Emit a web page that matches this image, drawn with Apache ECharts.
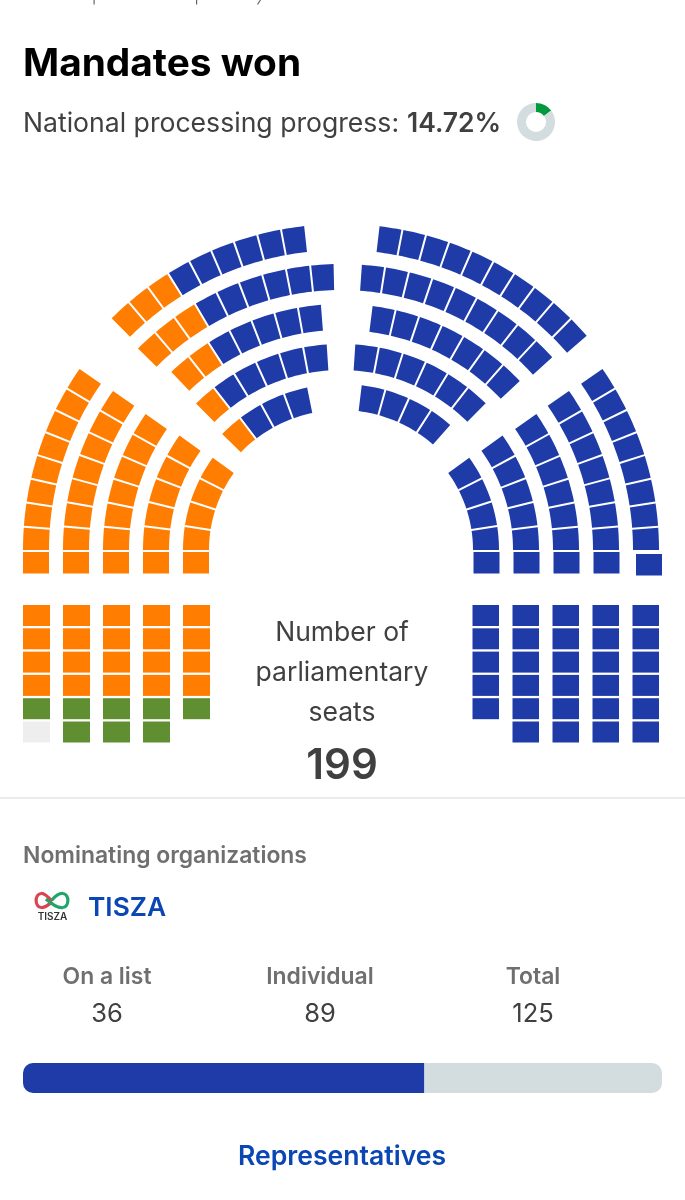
<!DOCTYPE html>
<html>
<head>
<meta charset="utf-8">
<title>Mandates won</title>
<style>html,body{margin:0;padding:0;background:#fff}#c{width:685px;height:1200px}</style>
<script src="https://cdn.jsdelivr.net/npm/echarts@6/dist/echarts.min.js"></script>
</head>
<body>
<div id="c"></div>
<script>
// ---- values ----
const titleText = 'Mandates won';
const progressLabel = 'National processing progress: ';
const progressPercent = 14.72;
const centerLines = ['Number of', 'parliamentary', 'seats'];
const totalSeats = 199;
const orgHeading = 'Nominating organizations';
const orgName = 'TISZA';
const statLabels = ['On a list', 'Individual', 'Total'];
const statValues = [36, 89, 125];
const linkText = 'Representatives';

// seats per ring, outermost ring first
const upperLeftOrange = [3, 3, 2, 1, 1];
const upperLeftBlue = [6, 6, 5, 5, 3];
const upperRightBlue = [10, 9, 7, 6, 4];
const lowerLeftOrange = [8, 7, 6, 5, 4];
const lowerRightBlue = [8, 7, 6, 5, 4];
// bottom blocks, per column, left to right
const flatRowLeft = ['orange', 'orange', 'orange', 'orange', 'orange'];
const flatRowRight = ['blue', 'blue', 'blue', 'blue', 'blue'];
const columnOrange = [4, 4, 4, 4, 4];
const columnGreen = [1, 2, 2, 2, 1];
const columnEmpty = [1, 0, 0, 0, 0];
const columnBlue = [5, 6, 6, 6, 6];

// ---- layout and style (not data) ----
const COLORS = { orange: '#ff7d00', blue: '#1f3ba8', green: '#5f8f31', empty: '#eeeeee' };
const TEXT = '#404040', LINK = '#0a46b4', MUTED = '#6f6f6f';
const FONT = 'Inter, "Noto Sans", sans-serif';
const CX = 341, CY = 550;
const SEAT_DEPTH_LOW = 26, SEAT_DEPTH_HIGH = 26, GAP = 2;
const lowRadii = [318, 278, 238, 198, 158];
const highRadii = [326, 286, 246, 206, 166];
const lowEnds = [34.7, 34.9, 34.8, 35.3, 35.7];
const upperLeftSpan = [[45.3, 83.5], [44.8, 88.5], [46.4, 85.3], [45.3, 86.0], [44.3, 78.2]];
const upperRightSpan = [[41.1, 83.2], [42.4, 85.8], [43.4, 82.6], [45.4, 86.0], [48.9, 82.8]];
const leftColumnsX = [23, 63, 103, 143, 183];
const rightColumnsX = [472.5, 512.5, 552.5, 592.5, 632.5];

// ---- build seats in polar terms: [outer radius, start angle, end angle, depth, colour key] ----
const arcSeats = [];
function addRing(outer, depth, a0, a1, groups, mirror) {
  const total = groups.reduce((s, g) => s + g[1], 0);
  const mid = outer - depth / 2;
  const halfGapDeg = (GAP / 2 / mid) * 180 / Math.PI;
  const pitch = (a1 - a0 + 2 * halfGapDeg) / total;
  let i = 0;
  groups.forEach(g => {
    for (let k = 0; k < g[1]; k++, i++) {
      const s = a0 - halfGapDeg + i * pitch, e = s + pitch;
      arcSeats.push(mirror ? [outer, 180 - e, 180 - s, depth, g[0]] : [outer, s, e, depth, g[0]]);
    }
  });
}
lowRadii.forEach((r, i) => {
  addRing(r, SEAT_DEPTH_LOW, 0, lowEnds[i], [['orange', lowerLeftOrange[i]]], true);
  addRing(r, SEAT_DEPTH_LOW, 0, lowEnds[i], [['blue', lowerRightBlue[i]]], false);
});
highRadii.forEach((r, i) => {
  addRing(r, SEAT_DEPTH_HIGH, upperLeftSpan[i][0], upperLeftSpan[i][1],
    [['orange', upperLeftOrange[i]], ['blue', upperLeftBlue[i]]], true);
  addRing(r, SEAT_DEPTH_HIGH, upperRightSpan[i][0], upperRightSpan[i][1],
    [['blue', upperRightBlue[i]]], false);
});

function renderArcSeat(params, api) {
  const outer = api.value(0), a0 = api.value(1), a1 = api.value(2), depth = api.value(3);
  const key = arcSeats[params.dataIndex][4];
  const inner = outer - depth;
  const dOuter = (GAP / 2 / outer) * 180 / Math.PI;
  const dInner = (GAP / 2 / inner) * 180 / Math.PI;
  const pts = [];
  const STEPS = 5;
  for (let i = 0; i <= STEPS; i++) {
    pts.push(api.coord([outer, a0 + dOuter + (a1 - a0 - 2 * dOuter) * i / STEPS]));
  }
  for (let i = STEPS; i >= 0; i--) {
    pts.push(api.coord([inner, a0 + dInner + (a1 - a0 - 2 * dInner) * i / STEPS]));
  }
  return { type: 'polygon', shape: { points: pts }, style: { fill: COLORS[key] } };
}

// ---- build rectangular seats: [left x, top y, width, height, colour key] ----
const rectSeats = [];
const ROW_TOP = 605, ROW_PITCH = 23.3, ROW_H = 21, COL_W = 27;
leftColumnsX.forEach((x, c) => {
  let row = 0;
  [['orange', columnOrange[c]], ['green', columnGreen[c]], ['empty', columnEmpty[c]]].forEach(g => {
    for (let k = 0; k < g[1]; k++, row++) {
      rectSeats.push([x, ROW_TOP + row * ROW_PITCH, COL_W, ROW_H, g[0]]);
    }
  });
  rectSeats.push([x, 552, 26, 21.5, flatRowLeft[c]]);
});
rightColumnsX.forEach((x, c) => {
  for (let row = 0; row < columnBlue[c]; row++) {
    rectSeats.push([x, ROW_TOP + row * ROW_PITCH, COL_W - 0.5, ROW_H, 'blue']);
  }
  const nudge = c === 4 ? 2.5 : 0; // the last seat of this row sits slightly out of line
  rectSeats.push([x + 1 + nudge, 552 + nudge * 0.8, 26, 21.5, flatRowRight[c]]);
});

function renderRectSeat(params, api) {
  const s = rectSeats[params.dataIndex];
  const a = api.coord([api.value(0), api.value(1)]);
  const b = api.coord([api.value(0) + api.value(2), api.value(1) + api.value(3)]);
  return {
    type: 'rect',
    shape: { x: a[0], y: a[1], width: b[0] - a[0], height: b[1] - a[1] },
    style: { fill: COLORS[s[4]] }
  };
}

const txt = (x, y, text, font, fill, align) => ({
  type: 'text', x, y, silent: true,
  style: { text, font: font + ' ' + FONT, fill, textAlign: align || 'left', textVerticalAlign: 'middle' }
});
const curve = (p, color) => ({
  type: 'bezierCurve', silent: true,
  shape: { x1: p[0], y1: p[1], cpx1: p[2], cpy1: p[3], cpx2: p[4], cpy2: p[5], x2: p[6], y2: p[7] },
  style: { fill: 'none', stroke: color, lineWidth: 3.2 }
});

const graphics = [
  txt(23, 64, titleText, '700 38.8px', '#000000'),
  txt(23, 124, progressLabel, '400 26.6px', TEXT),
  txt(407, 124, progressPercent.toFixed(2) + '%', '600 26.5px', TEXT),
  txt(342, 633, centerLines[0], '400 26.5px', TEXT, 'center'),
  txt(342, 673, centerLines[1], '400 26.5px', TEXT, 'center'),
  txt(342, 713, centerLines[2], '400 26.5px', TEXT, 'center'),
  txt(342, 766, String(totalSeats), '600 42px', TEXT, 'center'),
  { type: 'rect', silent: true, shape: { x: 0, y: 797, width: 685, height: 2 }, style: { fill: '#e9ebef' } },
  txt(23, 856, orgHeading, '600 22.9px', MUTED),
  txt(88, 908, orgName, '600 26.3px', LINK),
  // logo knot
  curve([52, 901.5, 47, 895.5, 44, 893, 41, 893.5], '#d94450'),
  curve([41, 893.5, 34.5, 894.5, 34.5, 906.5, 41, 907.5], '#d94450'),
  curve([41, 907.5, 45, 908, 49, 904.5, 52, 901.5], '#d94450'),
  curve([46, 899, 51, 903.5, 58, 908.5, 63, 907.5], '#1fa56a'),
  curve([63, 907.5, 69.5, 906.5, 69.5, 894.5, 63, 893.5], '#1fa56a'),
  curve([63, 893.5, 59, 893, 55, 896.5, 52, 900], '#1fa56a'),
  txt(52.5, 917, 'TISZA', '600 10px', '#333333', 'center'),
  // clipped descenders of the line above the crop
  { type: 'rect', silent: true, shape: { x: 93.5, y: 0, width: 1.2, height: 4.5 }, style: { fill: '#666' } },
  { type: 'rect', silent: true, shape: { x: 196, y: 0, width: 1.2, height: 4.5 }, style: { fill: '#666' } },
  { type: 'line', silent: true, shape: { x1: 260.5, y1: 0, x2: 257.5, y2: 4.5 }, style: { stroke: '#666', lineWidth: 1.2 } }
];
[107, 320, 533].forEach((x, i) => {
  graphics.push(txt(x, 977, statLabels[i], '600 22.9px', MUTED, 'center'));
  graphics.push(txt(x, 1014, String(statValues[i]), '400 25.5px', TEXT, 'center'));
});
graphics.push(txt(342, 1157, linkText, '600 26.6px', LINK, 'center'));

const chart = echarts.init(document.getElementById('c'), null, { renderer: 'canvas', width: 685, height: 1200 });
const won = statValues[2];
chart.setOption({
  animation: false,
  backgroundColor: '#ffffff',
  polar: { center: [CX, CY], radius: 400 },
  radiusAxis: { min: 0, max: 400, show: false },
  angleAxis: { min: 0, max: 360, startAngle: 0, clockwise: false, show: false },
  grid: [
    { left: 0, top: 0, width: 685, height: 1200, show: false },
    { left: 23, top: 1063, width: 639, height: 30, show: false }
  ],
  xAxis: [
    { gridIndex: 0, type: 'value', min: 0, max: 685, show: false },
    { gridIndex: 1, type: 'value', min: 0, max: totalSeats, show: false }
  ],
  yAxis: [
    { gridIndex: 0, type: 'value', min: 0, max: 1200, inverse: true, show: false },
    { gridIndex: 1, type: 'category', data: ['seats'], show: false }
  ],
  graphic: graphics,
  series: [
    {
      type: 'custom', coordinateSystem: 'polar', silent: true,
      renderItem: renderArcSeat,
      encode: { radius: 0, angle: 1 },
      data: arcSeats.map(s => s.slice(0, 4))
    },
    {
      type: 'custom', coordinateSystem: 'cartesian2d', xAxisIndex: 0, yAxisIndex: 0, silent: true,
      renderItem: renderRectSeat,
      encode: { x: 0, y: 1 },
      data: rectSeats.map(s => s.slice(0, 4))
    },
    {
      type: 'bar', xAxisIndex: 1, yAxisIndex: 1, stack: 'seats', barWidth: 30, silent: true,
      data: [won],
      itemStyle: { color: COLORS.blue, borderRadius: [10, 0, 0, 10] }
    },
    {
      type: 'bar', xAxisIndex: 1, yAxisIndex: 1, stack: 'seats', barWidth: 30, silent: true,
      data: [totalSeats - won],
      itemStyle: { color: '#d3dcdf', borderRadius: [0, 10, 10, 0] }
    },
    {
      type: 'pie', center: [536, 122], radius: [10, 19], startAngle: 90, silent: true,
      label: { show: false }, labelLine: { show: false },
      data: [
        { value: progressPercent, itemStyle: { color: '#009a3e' } },
        { value: 100 - progressPercent, itemStyle: { color: '#d3dcdf' } }
      ]
    }
  ]
});
</script>
</body>
</html>
